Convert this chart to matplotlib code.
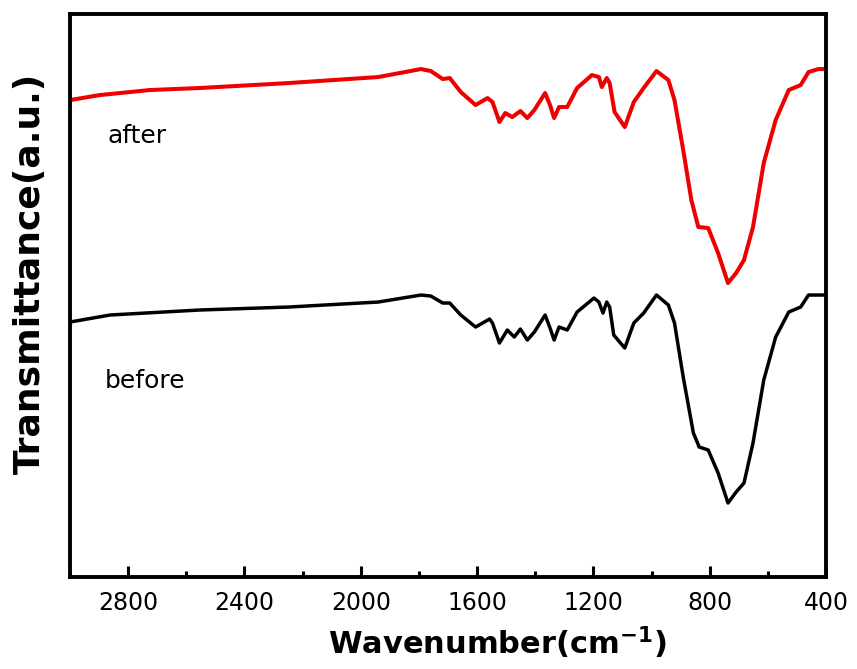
import matplotlib
matplotlib.use("Agg")
import matplotlib.pyplot as plt
from matplotlib.ticker import MultipleLocator
import numpy as np

# FTIR spectra (arbitrary transmittance units)
wn_after = [3000, 2897, 2726, 2556, 2248, 1940, 1793, 1759, 1718, 1694, 1656, 1605,
            1564, 1547, 1523, 1503, 1479, 1451, 1427, 1403, 1366, 1349, 1335, 1318,
            1290, 1256, 1205, 1181, 1171, 1154, 1144, 1127, 1092, 1061, 1027, 983,
            942, 921, 891, 863, 839, 805, 771, 737, 709, 682, 651, 614, 573, 528,
            487, 460, 426, 400]
t_after = [477, 482, 487, 489, 494, 500, 508, 506, 498, 499, 485, 472,
           479, 475, 455, 464, 460, 466, 459, 467, 484, 472, 459, 470,
           470, 489, 502, 500, 490, 499, 494, 465, 450, 475, 489, 506,
           497, 477, 427, 377, 350, 349, 324, 294, 304, 317, 350, 414, 457, 487,
           492, 505, 508, 508]

wn_before = [3000, 2863, 2556, 2248, 1940, 1793, 1759, 1718, 1694, 1656, 1605, 1557,
             1547, 1523, 1496, 1472, 1451, 1427, 1403, 1366, 1349, 1335, 1318, 1290,
             1256, 1198, 1181, 1167, 1154, 1144, 1130, 1092, 1061, 1027, 983, 942,
             921, 891, 856, 836, 805, 771, 737, 709, 682, 651, 614, 573, 528, 487,
             460, 400]
t_before = [255, 262, 267, 270, 275, 282, 281, 274, 274, 262, 250, 258,
            254, 234, 247, 240, 248, 237, 245, 262, 249, 237, 250, 247,
            265, 279, 275, 264, 275, 270, 242, 229, 254, 264, 282, 272,
            254, 200, 144, 130, 127, 104, 74, 85, 94, 134, 197, 240, 265, 270,
            282, 282]

fig = plt.figure(figsize=(8.57, 6.69), dpi=100)
ax = fig.add_axes([0.0817, 0.1375, 0.8821, 0.8415])

ax.plot(wn_after, t_after, color='#ee0000', lw=2.9, solid_joinstyle='round')
ax.plot(wn_before, t_before, color='black', lw=2.5, solid_joinstyle='round')

ax.text(2870, 434, 'after', fontsize=18, va='baseline', ha='left')
ax.text(2880, 189, 'before', fontsize=18, va='baseline', ha='left')

ax.set_xlim(3000, 400)
ax.set_ylim(0, 563)
ax.xaxis.set_major_locator(MultipleLocator(400))
ax.xaxis.set_minor_locator(MultipleLocator(200))
ax.set_yticks([])

for s in ax.spines.values():
    s.set_linewidth(2.8)

ax.tick_params(axis='x', which='major', direction='in', length=8, width=2.2,
               labelsize=17, pad=10)
ax.tick_params(axis='x', which='minor', direction='in', length=4, width=2.2)

ax.set_xlabel(r'Wavenumber(cm$^{\mathbf{-1}}$)', fontsize=22, fontweight='bold')
ax.xaxis.set_label_coords(0.565, -0.085)
ax.set_ylabel('Transmittance(a.u.)', fontsize=26, fontweight='bold')
ax.yaxis.set_label_coords(-0.03, 0.54)

fig.savefig('out.png', dpi=100)
